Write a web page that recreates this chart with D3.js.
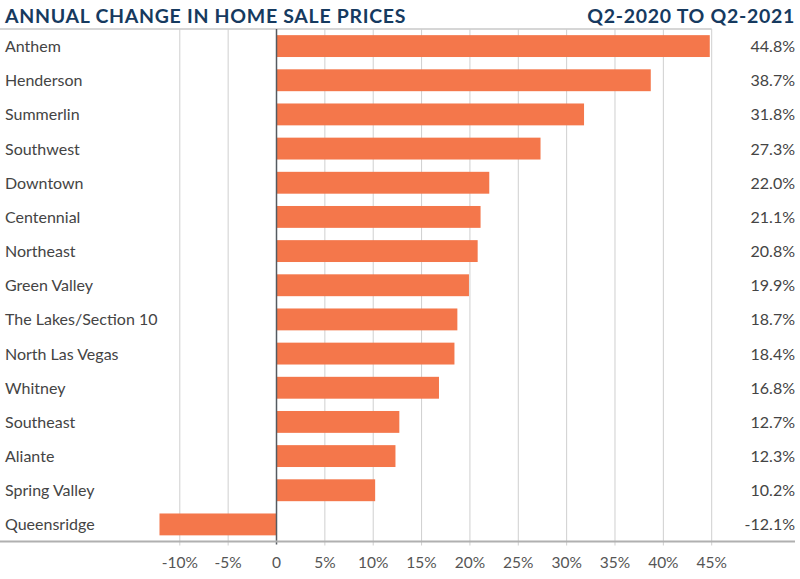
<!DOCTYPE html>
<html><head><meta charset="utf-8">
<script src="https://cdn.jsdelivr.net/npm/d3@7"></script>
<style>body{margin:0;background:#fff}svg{display:block}</style>
</head><body>
<svg id="c" width="800" height="579"></svg>
<script>
const categories = ["Anthem","Henderson","Summerlin","Southwest","Downtown","Centennial","Northeast","Green Valley","The Lakes/Section 10","North Las Vegas","Whitney","Southeast","Aliante","Spring Valley","Queensridge"];
const values = [44.8,38.7,31.8,27.3,22.0,21.1,20.8,19.9,18.7,18.4,16.8,12.7,12.3,10.2,-12.1];
const tickValues = [-10,-5,0,5,10,15,20,25,30,35,40,45];
const titleLeft = "ANNUAL CHANGE IN HOME SALE PRICES";
const titleRight = "Q2-2020 TO Q2-2021";

(function(){
const svg = d3.select("#c");
const font = "Lato, 'Open Sans', sans-serif";
const plotTop = 29, plotBottom = 541.5;
const x = d3.scaleLinear().domain([-10,45]).range([179.8,711.7]);
const y = d3.scaleBand().domain(categories).range([plotTop,plotBottom]).paddingInner(0.36).paddingOuter(0.18);

svg.append("text").attr("x",5).attr("y",23).attr("font-family",font).attr("font-weight",700)
  .attr("font-size",19.5).attr("letter-spacing",0.7).attr("fill","#163a5f").text(titleLeft);
svg.append("text").attr("x",795).attr("y",23).attr("text-anchor","end").attr("font-family",font).attr("font-weight",700)
  .attr("font-size",19.5).attr("letter-spacing",0.7).attr("fill","#163a5f").text(titleRight);

svg.append("line").attr("x1",0).attr("x2",x(45)).attr("y1",plotTop).attr("y2",plotTop).attr("stroke","#c8c8c8").attr("stroke-width",1.5);

svg.append("g").selectAll("line").data(tickValues.filter(d=>d!==0)).join("line")
  .attr("x1",d=>x(d)).attr("x2",d=>x(d)).attr("y1",plotTop).attr("y2",plotBottom+4)
  .attr("stroke","#cfcfcf").attr("stroke-width",1);

svg.append("g").selectAll("rect").data(values).join("rect")
  .attr("x",d=>x(Math.min(0,d))).attr("width",d=>Math.abs(x(d)-x(0)))
  .attr("y",(d,i)=>y(categories[i])).attr("height",y.bandwidth())
  .attr("fill","#f4774b");

svg.append("line").attr("x1",x(0)).attr("x2",x(0)).attr("y1",plotTop).attr("y2",plotBottom+3).attr("stroke","#555a60").attr("stroke-width",1.5);

svg.append("line").attr("x1",0).attr("x2",795).attr("y1",plotBottom).attr("y2",plotBottom).attr("stroke","#b0b0b0").attr("stroke-width",2);

svg.append("g").selectAll("text").data(tickValues).join("text")
  .attr("x",d=>x(d)).attr("y",567.5).attr("text-anchor","middle")
  .attr("font-family",font).attr("font-size",15.5).attr("fill","#555")
  .text(d=>d===0?"0":d+"%");

svg.append("g").selectAll("text").data(categories).join("text")
  .attr("x",5).attr("y",d=>y(d)+y.bandwidth()/2+6)
  .attr("font-family",font).attr("font-size",16).attr("fill","#444")
  .text(d=>d);

svg.append("g").selectAll("text").data(values).join("text")
  .attr("x",795).attr("y",(d,i)=>y(categories[i])+y.bandwidth()/2+6).attr("text-anchor","end")
  .attr("font-family",font).attr("font-size",16).attr("fill","#444")
  .text(d=>d.toFixed(1)+"%");
})();
</script>
</body></html>
